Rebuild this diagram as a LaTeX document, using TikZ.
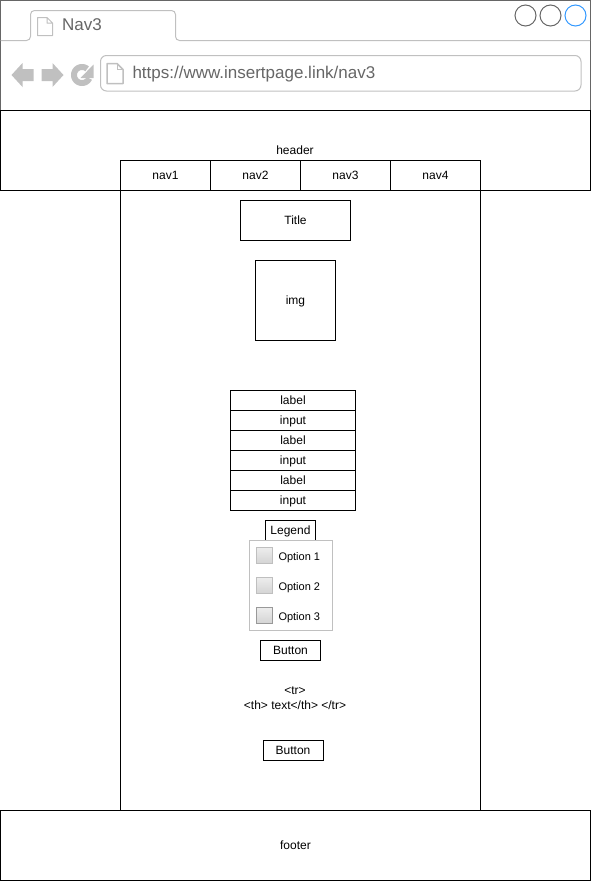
\documentclass[tikz,border=0pt]{standalone}
\usepackage{fontspec}
\setmainfont{Liberation Sans}
\definecolor{chrome}{HTML}{C0C0C0}
\definecolor{chrometext}{HTML}{666666}
\definecolor{activeblue}{HTML}{3399FF}
\tikzset{
	wire/.style={draw=black,line width=1pt,inner sep=0pt,text height=10pt,text depth=2pt,font=\fontsize{12}{14}\selectfont},
	caption/.style={inner sep=0pt,align=center,font=\fontsize{12}{15}\selectfont},
	optbox/.style={minimum width=16pt,minimum height=16pt,inner sep=0pt,line width=1.5pt,top color=black!7,bottom color=black!17},
	opttext/.style={inner sep=0pt,anchor=west,text height=10pt,text depth=1pt,font=\fontsize{11}{13}\selectfont},
	winbtn/.style={circle,draw=chrometext,line width=1pt,minimum size=21pt,inner sep=0pt},
	pageicon/.style={draw=chrome,fill=white,line join=round},
}
\begin{document}
\begin{tikzpicture}[x=1pt,y=-1pt,line width=1pt,>=stealth]
	\useasboundingbox (0,0) rectangle (592,881);
	% browser window
	\draw[chrometext] (0.5,0.5) rectangle (590.5,110);
	\draw[chrome,rounded corners=4pt] (0.5,40.5)--(30.5,40.5)--(30.5,10.5)--(175.5,10.5)--(175.5,40.5)--(590,40.5);
	\draw[pageicon] (37.5,17.5)--(47,17.5)--(52.5,23)--(52.5,35.5)--(37.5,35.5)--cycle (47,17.5)--(47,23)--(52.5,23);
	\node[inner sep=0pt,text=chrometext,font=\fontsize{17}{20}\selectfont] (tabname) at (82,25) {Nav3};
	\node[winbtn] (btnmin) at (525.5,15.5) {};
	\node[winbtn] (btnmax) at (550.5,15.5) {};
	\node[winbtn,draw=activeblue] (btnclose) at (575.5,15.5) {};
	% toolbar
	\fill[chrome] (11.5,75)--(22.5,63)--(22.5,69)--(33.5,69)--(33.5,81)--(22.5,81)--(22.5,87)--cycle;
	\fill[chrome] (63.5,75)--(52.5,63)--(52.5,69)--(41.5,69)--(41.5,81)--(52.5,81)--(52.5,87)--cycle;
	\draw[chrome,line width=6pt,smooth,samples=40,domain=25:310] plot({82+8*cos(\x)},{75+8*sin(\x)});
	\fill[chrome] (93.5,64.5)--(93.5,78)--(80.5,78)--cycle;
	\draw[chrome,rounded corners=6pt] (100.5,55.5) rectangle (581,91);
	\draw[pageicon,line width=1.5pt] (107,63.5)--(117,63.5)--(123,69.5)--(123,83.5)--(107,83.5)--cycle;
	\draw[chrome] (117,63.5)--(117,69.5)--(123,69.5);
	\node[inner sep=0pt,anchor=west,text=chrometext,font=\fontsize{17}{20}\selectfont] (url) at (132,74) {https://www.insertpage.link/nav3};
	% page frame
	\node[wire,minimum width=590pt,minimum height=80pt] (header) at (295.5,150.5) {};
	\node[caption] (headertext) at (295,150) {header};
	\node[wire,minimum width=360pt,minimum height=620pt] (main) at (300.5,500.5) {};
	\node[wire,minimum width=590pt,minimum height=70pt] (footer) at (295.5,845.5) {footer};
	\foreach \x/\xtext in {165.5/nav1,255.5/nav2,345.5/nav3,435.5/nav4}
		\node[wire,minimum width=90pt,minimum height=30pt] (\xtext) at (\x,175.5) {\xtext};
	% content
	\node[wire,minimum width=110pt,minimum height=40pt] (title) at (295.5,220.5) {Title};
	\node[wire,minimum width=80pt,minimum height=80pt] (img) at (295.5,300.5) {img};
	\foreach \y/\ytext/\yname in {400.5/label/laba,420.5/input/inpa,440.5/label/labb,460.5/input/inpb,480.5/label/labc,500.5/input/inpc}
		\node[wire,minimum width=125pt,minimum height=20pt] (\yname) at (293,\y) {\ytext};
	\node[wire,minimum width=50pt,minimum height=20pt] (legend) at (290.5,530.5) {Legend};
	\node[draw=chrome,minimum width=83pt,minimum height=90pt,inner sep=0pt] (options) at (290.5,585.5) {};
	\foreach \y/\ytext/\yname/\ycolor in {555.5/Option 1/opta/black!25,585.5/Option 2/optb/black!25,615.5/Option 3/optc/black!40}{
		\node[optbox,draw=\ycolor] (\yname) at (264.5,\y) {};
		\node[opttext] (\yname text) at (278,\y) {\ytext};
	}
	\node[wire,minimum width=60pt,minimum height=20pt] (buttona) at (290.5,650.5) {Button};
	\node[caption] (tabletext) at (295,698) {<tr>\\<th> text</th> </tr>};
	\node[wire,minimum width=60pt,minimum height=20pt] (buttonb) at (293,750.5) {Button};
\end{tikzpicture}
\end{document}
